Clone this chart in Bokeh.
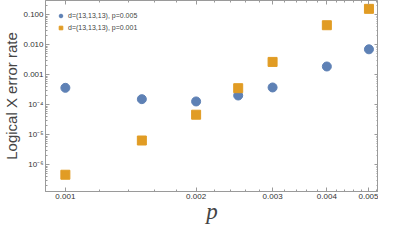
from bokeh.plotting import figure
from bokeh.models import LogAxis, FixedTicker, Legend, LegendItem
from bokeh.embed import file_html
from bokeh.resources import INLINE

p_values = [0.001, 0.0015, 0.002, 0.0025, 0.003, 0.004, 0.005]
err_p005 = [3.7e-4, 1.55e-4, 1.3e-4, 2.05e-4, 3.8e-4, 1.9e-3, 7.1e-3]
err_p001 = [4.7e-7, 6.5e-6, 4.7e-5, 3.6e-4, 2.7e-3, 0.045, 0.158]
label_005 = "d=(13,13,13), p=0.005"
label_001 = "d=(13,13,13), p=0.001"

x_ticks = [0.001, 0.002, 0.003, 0.004, 0.005]
x_tick_labels = ["0.001", "0.002", "0.003", "0.004", "0.005"]
y_ticks = [1e-6, 1e-5, 1e-4, 1e-3, 1e-2, 1e-1]
y_tick_labels = ["10\u207b\u2076", "10\u207b\u2075", "10\u207b\u2074", "0.001", "0.010", "0.100"]

X_START, X_END = 0.0009, 0.00526
Y_START, Y_END = 1.3e-7, 0.3

x_minor = [0.0009] + [round(0.001 + 0.0002 * i, 5) for i in range(1, 22)]
y_minor = []
for e in range(-7, 0):
    for m in range(1, 10):
        y_minor.append(m * 10.0 ** e)

BLUE = "#5E81B5"
ORANGE = "#E19C24"
FRAME = "#9a9a9a"

p = figure(width=378, height=226, x_axis_type="log", y_axis_type="log",
           x_range=(X_START, X_END), y_range=(Y_START, Y_END),
           output_backend="svg", toolbar_location=None,
           min_border_left=0, min_border_right=0, min_border_top=0, min_border_bottom=0)
p.grid.visible = False
p.outline_line_color = FRAME

r1 = p.scatter(p_values, err_p005, marker="circle", size=9, fill_color=BLUE, line_color=BLUE)
r2 = p.scatter(p_values, err_p001, marker="square", size=9, fill_color=ORANGE, line_color=ORANGE)

legend = Legend(items=[LegendItem(label=label_005, renderers=[r1]),
                       LegendItem(label=label_001, renderers=[r2])],
                location="top_left", border_line_alpha=0, background_fill_alpha=0,
                label_text_font_size="7px", label_text_font="Liberation Sans",
                glyph_width=9, glyph_height=9, label_height=9, spacing=3,
                padding=4, margin=7, label_standoff=3)
p.add_layout(legend)

def style(ax, ticks, minor, labels, show, inward=True):
    ax.ticker = FixedTicker(ticks=ticks, minor_ticks=minor)
    ax.axis_line_color = FRAME
    ax.major_tick_line_color = FRAME
    ax.minor_tick_line_color = FRAME
    if inward:
        ax.major_tick_in, ax.major_tick_out = 4, 0
        ax.minor_tick_in, ax.minor_tick_out = 2, 0
    else:
        ax.major_tick_in, ax.major_tick_out = 0, 4
        ax.minor_tick_in, ax.minor_tick_out = 0, 2
    if show:
        ax.major_label_overrides = {t: l for t, l in zip(ticks, labels)}
        ax.major_label_text_font_size = "8px"
        ax.major_label_text_font = "Liberation Sans"
        ax.major_label_text_color = "#333333"
        ax.major_label_standoff = 2
    else:
        ax.major_label_overrides = {t: "" for t in ticks}
        ax.major_label_text_font_size = "0px"
        ax.major_label_standoff = 0

style(p.xaxis[0], x_ticks, x_minor, x_tick_labels, True)
style(p.yaxis[0], y_ticks, y_minor, y_tick_labels, True)

p.xaxis[0].axis_label = "p"
p.xaxis[0].axis_label_text_font = "Liberation Serif"
p.xaxis[0].axis_label_text_font_style = "italic"
p.xaxis[0].axis_label_text_font_size = "23px"
p.xaxis[0].axis_label_standoff = -3

p.yaxis[0].axis_label = "Logical X error rate"
p.yaxis[0].axis_label_text_font = "Liberation Sans"
p.yaxis[0].axis_label_text_font_style = "normal"
p.yaxis[0].axis_label_text_font_size = "15px"
p.yaxis[0].axis_label_standoff = 0

# frame ticks on the top and right edges, drawn at the range ends
top = LogAxis(fixed_location=Y_END)
style(top, x_ticks, x_minor, x_tick_labels, False, inward=False)
p.add_layout(top, "below")
right = LogAxis(fixed_location=X_END)
style(right, y_ticks, y_minor, y_tick_labels, False, inward=False)
p.add_layout(right, "left")

open("out.html", "w").write(file_html(p, INLINE))
